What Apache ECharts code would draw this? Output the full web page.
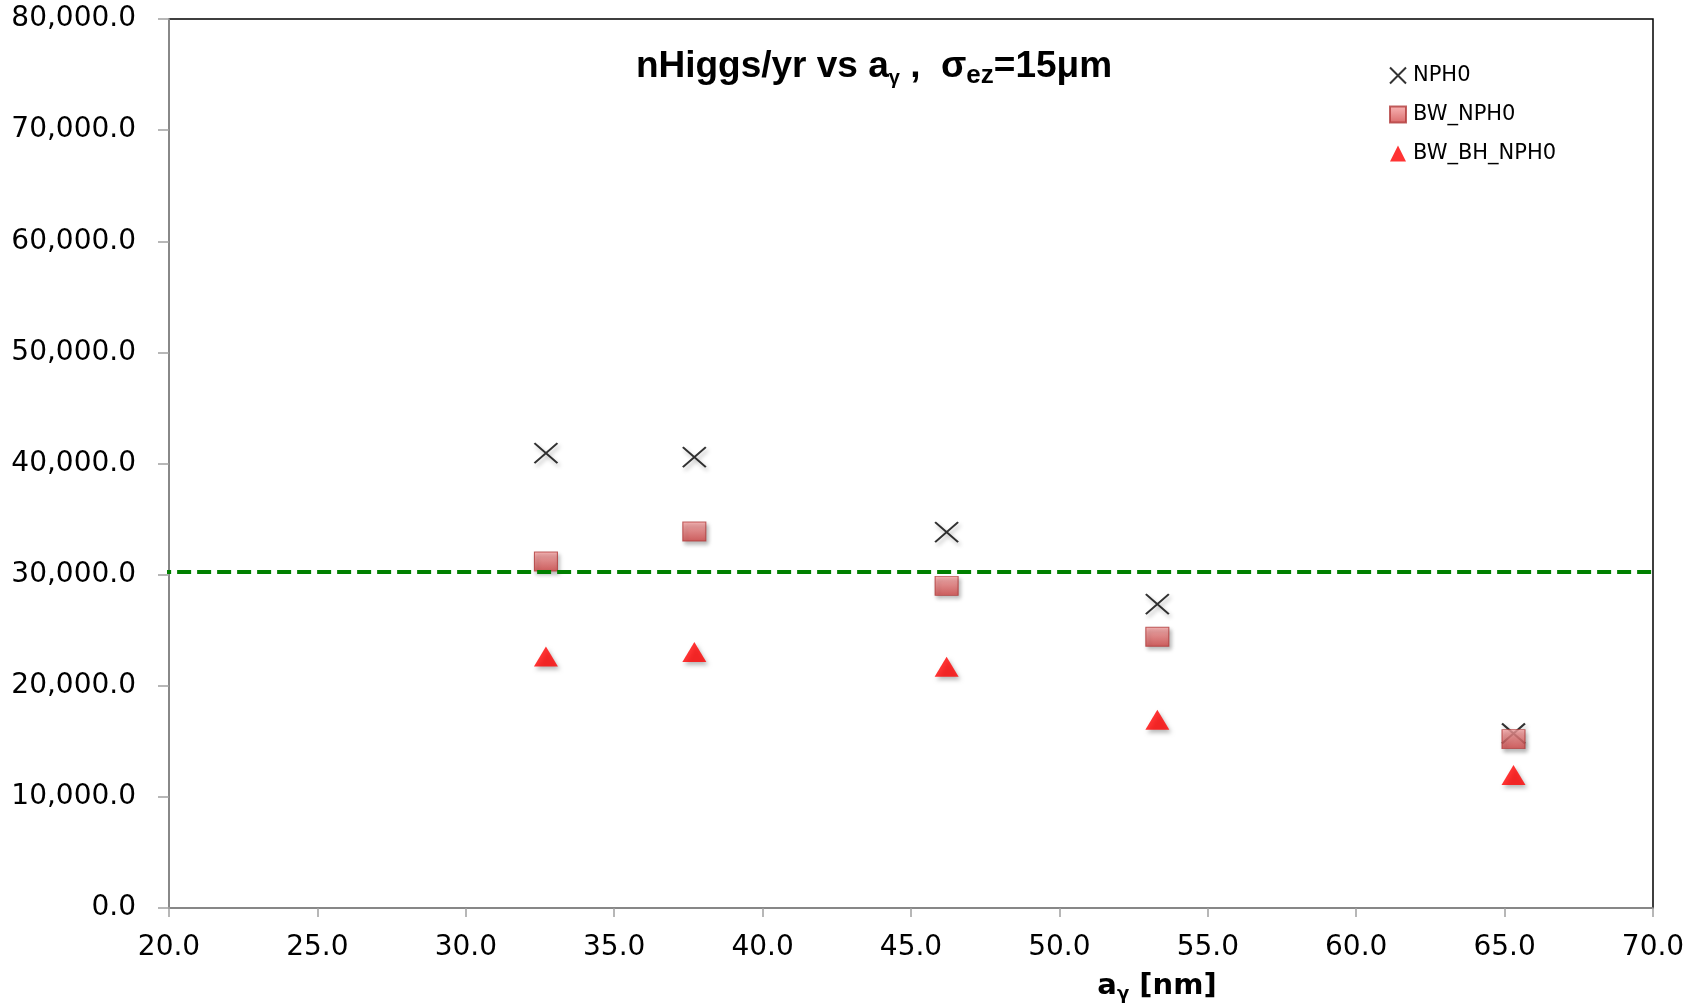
<!DOCTYPE html>
<html>
<head>
<meta charset="utf-8">
<script src="https://cdn.jsdelivr.net/npm/echarts@6/dist/echarts.min.js"></script>
<style>
  html, body { margin: 0; padding: 0; background: #fff; }
  #main { width: 1699px; height: 1005px; }
</style>
</head>
<body>
<div id="main"></div>
<script>
var aGamma = [32.7, 37.7, 46.2, 53.3, 65.3];
var nph0 = [40930, 40570, 33830, 27350, 15700];
var bwNph0 = [31180, 33880, 28990, 24410, 15200];
var bwBhNph0 = [22630, 23030, 21710, 16940, 11960];
// dashed reference level, runs a little past both axes
var refX = [19.6, 70.25];
var refLevel = 30230;

function pairs(xs, ys) {
    return xs.map(function (x, i) { return [x, ys[i]]; });
}

var myChart = echarts.init(document.getElementById('main'));

var shadow = {
    shadowBlur: 4,
    shadowColor: 'rgba(0,0,0,0.35)',
    shadowOffsetX: 2,
    shadowOffsetY: 3
};

var option = {
    animation: false,
    textStyle: { fontFamily: 'DejaVu Sans' },
    title: [{
        left: 869,
        top: 40,
        textAlign: 'center',
        text: 'nHiggs/yr vs a{sub|γ} ,  σ{sub2|ez}=15μm',
        textStyle: {
            fontFamily: 'Liberation Sans',
            fontWeight: 'bold',
            fontSize: 37,
            color: '#000',
            rich: {
                sub: { fontFamily: 'Liberation Sans', fontSize: 20, fontWeight: 'bold', padding: [22, 0, 0, 0], color: '#000' },
                sub2: { fontFamily: 'Liberation Sans', fontSize: 26, fontWeight: 'bold', padding: [18, 0, 0, 0], color: '#000' }
            }
        }
    }, {
        left: 1152,
        top: 964,
        textAlign: 'center',
        text: 'a{sub|γ} [nm]',
        textStyle: {
            fontFamily: 'DejaVu Sans',
            fontWeight: 'bold',
            fontSize: 29,
            color: '#000',
            rich: {
                sub: { fontFamily: 'DejaVu Sans', fontSize: 18, padding: [16, 0, 0, 0], color: '#000' }
            }
        }
    }],
    legend: {
        orient: 'vertical',
        left: 1384,
        top: 60,
        itemWidth: 16,
        itemHeight: 16,
        itemGap: 18,
        data: ['NPH0', 'BW_NPH0', 'BW_BH_NPH0'],
        textStyle: { fontFamily: 'DejaVu Sans', fontSize: 21, color: '#000', padding: [0, 0, 0, 2] }
    },
    grid: {
        left: 169,
        right: 46,
        top: 19,
        bottom: 97,
        show: true,
        borderColor: '#000',
        borderWidth: 1.5
    },
    xAxis: {
        type: 'value',
        min: 20,
        max: 70,
        interval: 5,
        axisLine: { show: true, lineStyle: { color: '#a0a0a0', width: 1.5 } },
        axisTick: { show: true, length: 9, lineStyle: { color: '#a0a0a0', width: 1.5 } },
        splitLine: { show: false },
        axisLabel: {
            margin: 26,
            fontSize: 28,
            color: '#000',
            formatter: function (v) { return v.toFixed(1); }
        }
    },
    yAxis: {
        type: 'value',
        min: 0,
        max: 80000,
        interval: 10000,
        axisLine: { show: true, lineStyle: { color: '#a0a0a0', width: 1.5 } },
        axisTick: { show: true, length: 11, lineStyle: { color: '#a0a0a0', width: 1.5 } },
        splitLine: { show: false },
        axisLabel: {
            margin: 33,
            fontSize: 28,
            color: '#000',
            formatter: function (v) {
                return v.toLocaleString('en-US', { minimumFractionDigits: 1, maximumFractionDigits: 1 });
            }
        }
    },
    series: [{
        name: 'NPH0',
        type: 'scatter',
        symbol: 'path://M0,0L10,10M10,0L0,10',
        symbolSize: [23, 20],
        itemStyle: Object.assign({ color: 'rgba(0,0,0,0)', borderColor: '#000', borderWidth: 2 }, shadow),
        data: pairs(aGamma, nph0)
    }, {
        name: 'BW_NPH0',
        type: 'scatter',
        symbol: 'rect',
        symbolSize: [23, 19],
        itemStyle: Object.assign({
            color: new echarts.graphic.LinearGradient(0, 0, 0, 1, [
                { offset: 0, color: '#f7a5a5' },
                { offset: 1, color: '#d04545' }
            ]),
            borderColor: '#b03a3a',
            borderWidth: 1
        }, shadow),
        data: pairs(aGamma, bwNph0)
    }, {
        name: 'BW_BH_NPH0',
        type: 'scatter',
        symbol: 'triangle',
        symbolSize: [24, 20],
        itemStyle: Object.assign({ color: '#ff0000' }, shadow),
        data: pairs(aGamma, bwBhNph0)
    }, {
        name: 'ref',
        type: 'line',
        clip: false,
        symbol: 'none',
        silent: true,
        z: 5,
        lineStyle: { color: '#008000', width: 4, type: [14, 6] },
        data: refX.map(function (x) { return [x, refLevel]; })
    }]
};

myChart.setOption(option);
</script>
</body>
</html>
